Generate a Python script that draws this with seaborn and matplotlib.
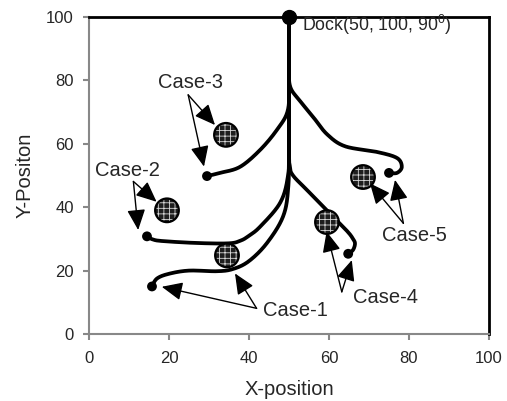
import matplotlib
matplotlib.use("Agg")
import matplotlib.pyplot as plt
import seaborn as sns
import pandas as pd
import numpy as np

# Trajectories from the dock (50, 100) to each final parking point
case1_x = [50, 50, 49.8, 48.5, 44.5, 40, 36, 32, 25, 20, 17, 15.75]
case1_y = [100, 60, 46, 37, 28.7, 23, 20.5, 19.8, 20, 19, 17.5, 15]
case2_x = [50, 50, 49.7, 47.75, 42.75, 40, 38, 35, 27, 18.5, 16, 14.5]
case2_y = [100, 60, 49.5, 41.3, 33.8, 31, 29.5, 28.6, 28.7, 29.3, 29.8, 30.8]
case3_x = [50, 50, 49.7, 47, 42.75, 37.75, 32.75, 29.5]
case3_y = [100, 80, 70.5, 64.4, 58, 52.7, 50.8, 49.8]
case4_x = [50, 50, 50.2, 51, 54.5, 59.5, 64.5, 66, 66.5, 66, 64.8]
case4_y = [100, 60, 53, 50, 45.4, 39, 32.5, 30, 28.5, 26.5, 25.3]
case5_x = [50, 50, 50.3, 52.75, 56, 59.5, 64, 72, 77, 78.2, 77, 75]
case5_y = [100, 85, 78, 73.5, 68.5, 63, 59.2, 57.4, 55.5, 52.7, 50.8, 50.8]

case_names = ["Case-1", "Case-2", "Case-3", "Case-4", "Case-5"]
paths_x = [case1_x, case2_x, case3_x, case4_x, case5_x]
paths_y = [case1_y, case2_y, case3_y, case4_y, case5_y]

# Obstacles for each case
obst_x = [34.5, 19.5, 34.25, 59.5, 68.5]
obst_y = [24.8, 39.0, 62.8, 35.3, 49.5]

dock_x, dock_y = 50, 100

# Label positions, arrow tails and the two arrow targets per case
label_x = [51.5, 9.6, 25.5, 74.25, 81.25]
label_y = [7.4, 51.5, 79.3, 11.4, 31.2]
tail_x = [41.9, 11.1, 24.8, 63.2, 78.6]
tail_y = [8.1, 48.1, 75.4, 13.3, 34.9]
head1_x = [18.2, 12.3, 28.75, 65.7, 76.5]
head1_y = [14.9, 32.8, 52.8, 23.3, 48.6]
head2_x = [36.5, 16.9, 31.5, 59.4, 70.25]
head2_y = [19.1, 41.7, 65.9, 32.3, 47.5]

xticks = [0, 20, 40, 60, 80, 100]
yticks = [0, 20, 40, 60, 80, 100]

sns.set_style("ticks")
plt.rcParams["font.family"] = ["Liberation Sans", "DejaVu Sans"]
plt.rcParams["hatch.linewidth"] = 0.6


def smooth(xs, ys, n=30):
    # Catmull-Rom through the waypoints for a smooth trajectory
    pts = np.column_stack([xs, ys]).astype(float)
    p = np.vstack([pts[0], pts, pts[-1]])
    out = []
    for i in range(1, len(p) - 2):
        p0, p1, p2, p3 = p[i - 1], p[i], p[i + 1], p[i + 2]
        t = np.linspace(0, 1, n, endpoint=False)[:, None]
        seg = 0.5 * ((2 * p1) + (-p0 + p2) * t + (2 * p0 - 5 * p1 + 4 * p2 - p3) * t ** 2
                     + (-p0 + 3 * p1 - 3 * p2 + p3) * t ** 3)
        out.append(seg)
    out.append(pts[-1:])
    return np.vstack(out)


srows = []
end_rows = []
for name, xs, ys in zip(case_names, paths_x, paths_y):
    s = smooth(xs, ys)
    for i, (x, y) in enumerate(s):
        srows.append({"case": name, "order": i, "x": x, "y": y})
    end_rows.append({"case": name, "x": xs[-1], "y": ys[-1]})
spaths = pd.DataFrame(srows)
ends = pd.DataFrame(end_rows)
obst = pd.DataFrame({"case": case_names, "x": obst_x, "y": obst_y})

fig = plt.figure(figsize=(5.07, 4.01), dpi=100)
ax = fig.add_axes([0.1755, 0.167, 0.789, 0.791])

sns.lineplot(data=spaths, x="x", y="y", hue="case", units="case", estimator=None,
             sort=False, palette=["black"] * 5, linewidth=2.7, legend=False, ax=ax,
             solid_capstyle="round")

# end points and dock
sns.scatterplot(data=ends, x="x", y="y", color="black", s=50, edgecolor="none",
                ax=ax, zorder=5)
ax.plot([dock_x], [dock_y], "o", color="black", markersize=10, zorder=6, clip_on=False)

# hatched obstacles
sns.scatterplot(data=obst, x="x", y="y", s=290, color="#1e1e1e", edgecolor="#d8d8d8",
                hatch="+++", linewidth=0, ax=ax, zorder=4)
sns.scatterplot(data=obst, x="x", y="y", s=290, facecolor="none", edgecolor="black",
                linewidth=1.6, ax=ax, zorder=4.5)

arrowprops = dict(arrowstyle="-|>,head_length=0.9,head_width=0.4", color="black",
                  lw=1.0, shrinkA=0, shrinkB=0, mutation_scale=14)
for i, name in enumerate(case_names):
    ax.text(label_x[i], label_y[i], name, ha="center", va="center", fontsize=14.5)
    for hx, hy in [(head1_x[i], head1_y[i]), (head2_x[i], head2_y[i])]:
        ax.annotate("", xy=(hx, hy), xytext=(tail_x[i], tail_y[i]), arrowprops=arrowprops)

ax.text(53.25, 97.6, r"Dock(50, 100, 90$^{\mathregular{0}}$)", ha="left", va="center",
        fontsize=12.8)

ax.set_xlim(0, 100)
ax.set_ylim(0, 100)
ax.set_xticks(xticks)
ax.set_yticks(yticks)
ax.tick_params(axis="both", labelsize=12, length=4, width=1.5, color="#888888",
               direction="out")
ax.tick_params(axis="x", pad=8)
ax.tick_params(axis="y", pad=7)
ax.set_xlabel("X-position", fontsize=14.5, labelpad=10)
ax.set_ylabel("Y-Positon", fontsize=14.5, labelpad=8)

for side in ["left", "bottom"]:
    ax.spines[side].set_color("#888888")
    ax.spines[side].set_linewidth(1.5)
for side in ["top", "right"]:
    ax.spines[side].set_visible(True)
    ax.spines[side].set_color("black")
    ax.spines[side].set_linewidth(2)

fig.savefig("out.png", dpi=100)
